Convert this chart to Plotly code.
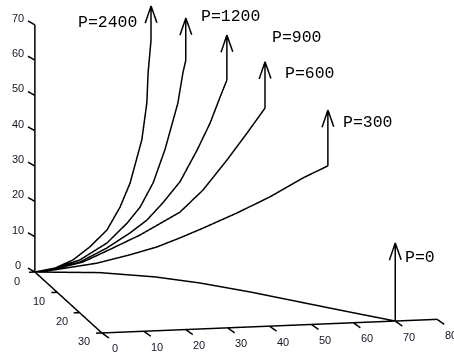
import plotly.graph_objects as go

# ---------------- data ----------------
labels = ["P=2400", "P=1200", "P=900", "P=600", "P=300", "P=0"]

# P=2400 curve (x along, y depth, z height)
x_2400 = [0, 4.8, 9.1, 13.1, 17.2, 20.3, 22.7, 25.5, 26.7, 27.0, 27.7]
y_2400 = [0, 0, 0, 0, 0, 0, 0, 0, 0, 0, 0]
z_2400 = [0, 0.9, 3.0, 6.5, 11.1, 17.4, 24.1, 36.2, 46.6, 55.1, 64.4]

x_1200 = [0, 4.8, 10.7, 17.2, 22.0, 25.1, 28.2, 31.0, 34.1, 35.3, 36.0]
y_1200 = [0, 0, 0, 0, 0, 0, 0, 0, 0, 0, 0]
z_1200 = [0, 0.9, 2.9, 7.4, 12.8, 17.2, 23.9, 33.1, 46.2, 54.7, 58.3]

x_900 = [0, 4.8, 10.7, 17.2, 22.7, 26.7, 30.5, 34.6, 38.7, 41.8, 44.2, 45.8]
y_900 = [0, 0, 0, 0, 0, 0, 0, 0, 0, 0, 0, 0]
z_900 = [0, 0.8, 2.3, 6.0, 10.0, 13.4, 18.1, 23.9, 32.7, 40.2, 47.5, 52.2]

x_600 = [0, 4.8, 11.5, 18.6, 25.1, 30.5, 34.6, 40.1, 45.8, 50.6, 54.9]
y_600 = [0, 0, 0, 0, 0, 0, 0, 0, 0, 0, 0]
z_600 = [0, 0.6, 2.3, 5.9, 9.3, 12.7, 15.3, 21.3, 29.5, 36.9, 43.8]

x_300 = [0, 4.8, 14.8, 22.7, 29.1, 34.6, 40.1, 48.2, 56.1, 64.0, 69.9]
y_300 = [0, 0, 0, 0, 0, 0, 0, 0, 0, 0, 0]
z_300 = [0, 0.4, 1.8, 3.8, 5.7, 8.0, 10.5, 14.4, 18.6, 23.6, 26.7]

x_0 = [0, 14.6, 26.2, 34.9, 44.3, 53.0, 61.9, 70.0]
y_0 = [0, 1.5, 4.6, 8.3, 13.6, 19.2, 24.9, 30.0]
z_0 = [0, 0, 0, 0, 0, 0, 0, 0]

# height of the tip of the load arrow drawn at each curve end
arrow_tip_z = [74.0, 70.2, 64.9, 56.9, 42.5, 22.1]

x_ticks = [0, 10, 20, 30, 40, 50, 60, 70, 80]
y_ticks = [0, 10, 20, 30]
z_ticks = [0, 10, 20, 30, 40, 50, 60, 70]

# ---------------- styling / layout constants ----------------
curves = [(x_2400, y_2400, z_2400), (x_1200, y_1200, z_1200), (x_900, y_900, z_900),
          (x_600, y_600, z_600), (x_300, y_300, z_300), (x_0, y_0, z_0)]
label_dx = [-75, 13, 43, 18, 13, 8]      # pixel offset of label left edge from arrow tip
label_dy = [-16, 2, -2, -12, -12, -14]   # pixel offset (up +) of label centre from tip
barb_dx, barb_dz = 1.4, 4.8
LINE = dict(color="black", width=3)

fig = go.Figure()

def seg_trace(xs, ys, zs):
    fig.add_trace(go.Scatter3d(x=xs, y=[None if v is None else -v for v in ys], z=zs,
                               mode="lines", line=LINE, hoverinfo="skip",
                               showlegend=False, connectgaps=False))

# curves
for cx, cy, cz in curves:
    seg_trace(cx, cy, cz)

# arrows
ax, ay, az = [], [], []
for (cx, cy, cz), zt in zip(curves, arrow_tip_z):
    xe, ye, ze = cx[-1], cy[-1], cz[-1]
    ax += [xe, xe, None, xe - barb_dx, xe, xe + barb_dx, None]
    ay += [ye, ye, None, ye, ye, ye, None]
    az += [ze, zt, None, zt - barb_dz, zt, zt - barb_dz, None]
seg_trace(ax, ay, az)

# axes
y_front = y_ticks[-1]
seg_trace([0, 0, None, 0, 0, None, x_ticks[0], x_ticks[-1]],
          [0, 0, None, y_ticks[0], y_ticks[-1], None, y_front, y_front],
          [z_ticks[0], z_ticks[-1], None, 0, 0, None, 0, 0])

# tick marks
tx, ty, tz = [], [], []
for v in z_ticks:
    tx += [0, -0.6, None]; ty += [0, -2.0, None]; tz += [v, v, None]
for v in y_ticks:
    tx += [0, -1.4, None]; ty += [v, v, None]; tz += [0, 0, None]
for v in x_ticks:
    tx += [v, v + 0.35, None]; ty += [y_front, y_front + 2.5, None]; tz += [0, 0, None]
seg_trace(tx, ty, tz)

# annotations (tick labels + load labels)
annots = []
TF = dict(family="Liberation Sans, Arial", size=11, color="#141428")
for v in z_ticks:
    annots.append(dict(x=0, y=0, z=v, text=str(v), showarrow=False, font=TF,
                       xshift=-16.5, yshift=7))
for v in y_ticks:
    annots.append(dict(x=0, y=-v, z=0, text=str(v), showarrow=False, font=TF,
                       xshift=-18, yshift=-8.5))
for v in x_ticks:
    annots.append(dict(x=v, y=-y_front, z=0, text=str(v), showarrow=False, font=TF,
                       xshift=13.5, yshift=-15.5))
LF = dict(family="Liberation Mono, DejaVu Sans Mono, monospace", size=16.5, color="black")
for (cx, cy, cz), zt, lab, dx, dy in zip(curves, arrow_tip_z, labels, label_dx, label_dy):
    annots.append(dict(x=cx[-1], y=-cy[-1], z=zt, text=lab, showarrow=False, font=LF,
                       xanchor="left", xshift=dx, yshift=dy))

hidden = dict(visible=False, showgrid=False, zeroline=False, showbackground=False,
              showticklabels=False, showline=False, showspikes=False, title="")
D = 2.0
F = 2.33
fig.update_layout(
    width=454, height=353, margin=dict(l=0, r=0, t=0, b=0),
    paper_bgcolor="white", plot_bgcolor="white",
    scene=dict(
        domain=dict(x=[0, 1], y=[0, 1]),
        xaxis=dict(range=[-10, 86], **hidden),
        yaxis=dict(range=[-34.7, 5.3], **hidden),
        zaxis=dict(range=[-10, 77.36], **hidden),
        aspectmode="manual",
        aspectratio=dict(x=1.0 * F, y=1.0504 * F, z=0.7643 * F),
        camera=dict(eye=dict(x=-0.2027 * D, y=-0.9602 * D, z=0.1922 * D),
                    up=dict(x=0, y=0, z=1), center=dict(x=0, y=0, z=0),
                    projection=dict(type="orthographic")),
        annotations=annots,
        dragmode=False,
    ),
)

fig.write_html("out.html", config={"displayModeBar": False},
               post_script="document.body.style.margin='0px';")
